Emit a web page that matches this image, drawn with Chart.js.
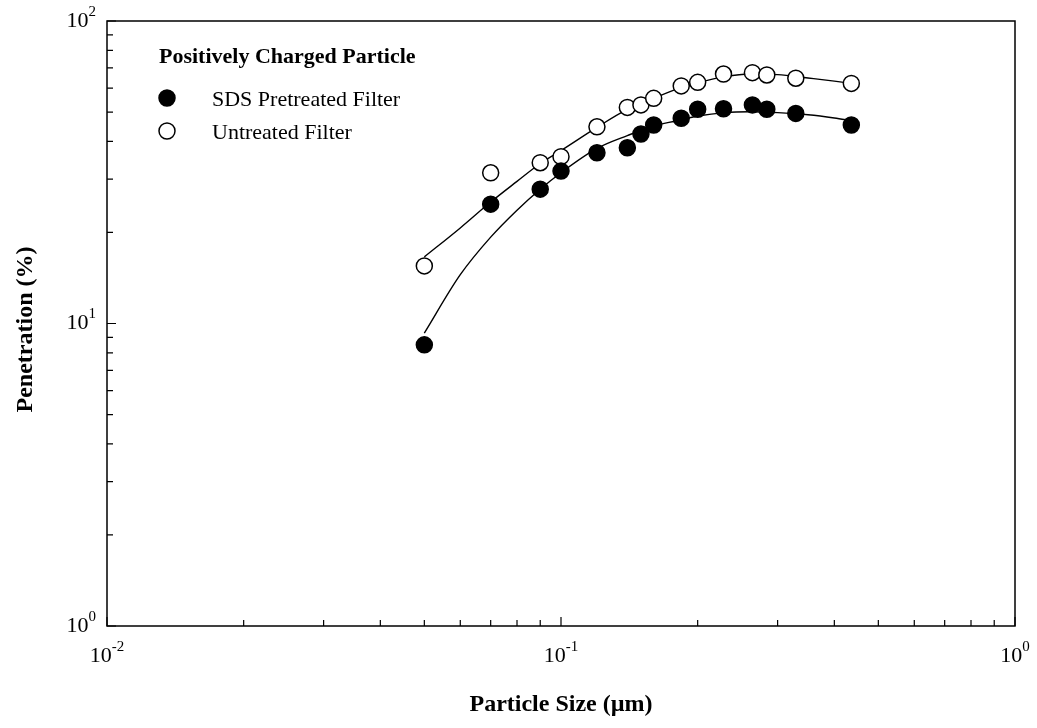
<!DOCTYPE html>
<html>
<head>
<meta charset="utf-8">
<script src="https://cdn.jsdelivr.net/npm/chart.js@4"></script>
<style>
  html, body { margin: 0; padding: 0; background: #fff; }
</style>
</head>
<body>
<canvas id="grafica" width="1037" height="728"></canvas>
<script>
// measured particle sizes (um)
const tamanos = [0.05, 0.07, 0.09, 0.1, 0.12, 0.14, 0.15, 0.16, 0.184, 0.2, 0.228, 0.264, 0.284, 0.329, 0.436];
// penetration (%)
const penSDS = [8.5, 24.8, 27.8, 31.9, 36.7, 38.1, 42.3, 45.3, 47.7, 51.1, 51.3, 52.8, 51.1, 49.5, 45.3];
const penUntreated = [15.5, 31.5, 34.0, 35.6, 44.7, 51.8, 52.8, 55.5, 61.0, 62.7, 66.8, 67.5, 66.3, 64.7, 62.2];

// fitted curves at these sizes
const tamanosCurva = [0.05, 0.06, 0.07, 0.08, 0.09, 0.1, 0.12, 0.14, 0.16, 0.18, 0.2, 0.23, 0.26, 0.3, 0.35, 0.4, 0.436];
const curvaSDS = [9.3, 14.5, 19.3, 23.7, 27.8, 31.5, 37.9, 41.8, 45.0, 46.8, 48.5, 49.8, 50.1, 49.8, 49.0, 47.8, 46.8];
const curvaUntreated = [16.6, 20.7, 25.2, 29.5, 33.8, 37.3, 44.5, 51.0, 55.5, 59.5, 62.5, 65.5, 66.8, 66.5, 64.8, 63.3, 62.2];

// axis ticks
const ticksX = [0.01, 0.1, 1];
const ticksY = [1, 10, 100];
const expX = ["-2", "-1", "0"];
const expY = ["0", "1", "2"];
const menoresX = [0.02,0.03,0.04,0.05,0.06,0.07,0.08,0.09,0.2,0.3,0.4,0.5,0.6,0.7,0.8,0.9];
const menoresY = [2,3,4,5,6,7,8,9,20,30,40,50,60,70,80,90];

const puntos = (xs, ys) => xs.map((x, i) => ({x: x, y: ys[i]}));

const FUENTE = '"Liberation Serif", "Times New Roman", serif';

function texto10(ctx, exp, x, y, align) {
    // "10" with a raised exponent; y is the vertical middle of "10"
    ctx.font = '22px ' + FUENTE;
    const w10 = ctx.measureText('10').width;
    ctx.font = '15px ' + FUENTE;
    const wExp = ctx.measureText(exp).width;
    const total = w10 + wExp;
    let x0 = x;
    if (align === 'center') x0 = x - total / 2;
    if (align === 'right') x0 = x - total;
    ctx.textAlign = 'left';
    ctx.textBaseline = 'middle';
    ctx.font = '22px ' + FUENTE;
    ctx.fillText('10', x0, y);
    ctx.font = '15px ' + FUENTE;
    ctx.fillText(exp, x0 + w10, y - 9);
}

const ejes = {
    id: 'ejes_propios',
    beforeDraw: (chart) => {
        const ctx = chart.ctx;
        ctx.save();
        ctx.fillStyle = 'white';
        ctx.fillRect(0, 0, chart.width, chart.height);
        ctx.restore();
    },
    afterDraw: (chart) => {
        const ctx = chart.ctx;
        const a = chart.chartArea;
        const sx = chart.scales.x, sy = chart.scales.y;
        ctx.save();
        ctx.strokeStyle = '#000';
        ctx.fillStyle = '#000';
        ctx.lineWidth = 1.5;
        ctx.strokeRect(a.left, a.top, a.right - a.left, a.bottom - a.top);

        // inward ticks
        ctx.lineWidth = 1.2;
        ctx.beginPath();
        ticksX.forEach(v => { const p = sx.getPixelForValue(v); ctx.moveTo(p, a.bottom); ctx.lineTo(p, a.bottom - 9); });
        menoresX.forEach(v => { const p = sx.getPixelForValue(v); ctx.moveTo(p, a.bottom); ctx.lineTo(p, a.bottom - 6); });
        ticksY.forEach(v => { const p = sy.getPixelForValue(v); ctx.moveTo(a.left, p); ctx.lineTo(a.left + 9, p); });
        menoresY.forEach(v => { const p = sy.getPixelForValue(v); ctx.moveTo(a.left, p); ctx.lineTo(a.left + 6, p); });
        ctx.stroke();

        // tick labels
        ticksX.forEach((v, i) => texto10(ctx, expX[i], sx.getPixelForValue(v), a.bottom + 30, 'center'));
        ticksY.forEach((v, i) => texto10(ctx, expY[i], a.left - 11, sy.getPixelForValue(v), 'right'));

        // axis titles
        ctx.font = 'bold 24px ' + FUENTE;
        ctx.textAlign = 'center';
        ctx.textBaseline = 'middle';
        ctx.fillText('Particle Size (\u00b5m)', (a.left + a.right) / 2, 705);
        ctx.save();
        ctx.translate(26, (a.top + a.bottom) / 2 + 6);
        ctx.rotate(-Math.PI / 2);
        ctx.fillText('Penetration (%)', 0, 0);
        ctx.restore();

        // legend
        ctx.textAlign = 'left';
        ctx.textBaseline = 'alphabetic';
        ctx.font = 'bold 22px ' + FUENTE;
        ctx.fillText('Positively Charged Particle', 159, 63);
        ctx.font = '22px ' + FUENTE;
        ctx.fillText('SDS Pretreated Filter', 212, 106);
        ctx.fillText('Untreated Filter', 212, 139);
        ctx.lineWidth = 1.5;
        ctx.beginPath(); ctx.arc(167, 98, 8, 0, 2 * Math.PI); ctx.fill(); ctx.stroke();
        ctx.beginPath(); ctx.arc(167, 131, 8, 0, 2 * Math.PI);
        ctx.fillStyle = '#fff'; ctx.fill(); ctx.stroke();
        ctx.restore();
    }
};

const grafica = new Chart(document.getElementById('grafica'), {
    type: 'scatter',
    data: {
        datasets: [
            {
                label: 'SDS Pretreated Filter',
                data: puntos(tamanos, penSDS),
                backgroundColor: '#000', borderColor: '#000', borderWidth: 1.5,
                pointRadius: 8, showLine: false
            },
            {
                label: 'Untreated Filter',
                data: puntos(tamanos, penUntreated),
                backgroundColor: '#fff', borderColor: '#000', borderWidth: 1.5,
                pointRadius: 8, showLine: false
            },
            {
                label: 'ajuste SDS',
                data: puntos(tamanosCurva, curvaSDS),
                borderColor: '#000', borderWidth: 1.4, pointRadius: 0,
                showLine: true, cubicInterpolationMode: 'monotone'
            },
            {
                label: 'ajuste Untreated',
                data: puntos(tamanosCurva, curvaUntreated),
                borderColor: '#000', borderWidth: 1.4, pointRadius: 0,
                showLine: true, cubicInterpolationMode: 'monotone'
            }
        ]
    },
    options: {
        responsive: false,
        animation: false,
        layout: { padding: { left: 107, right: 22, top: 21, bottom: 102 } },
        plugins: { legend: { display: false }, tooltip: { enabled: false } },
        scales: {
            x: { type: 'logarithmic', min: 0.01, max: 1, display: false },
            y: { type: 'logarithmic', min: 1, max: 100, display: false }
        }
    },
    plugins: [ejes]
});
</script>
</body>
</html>
